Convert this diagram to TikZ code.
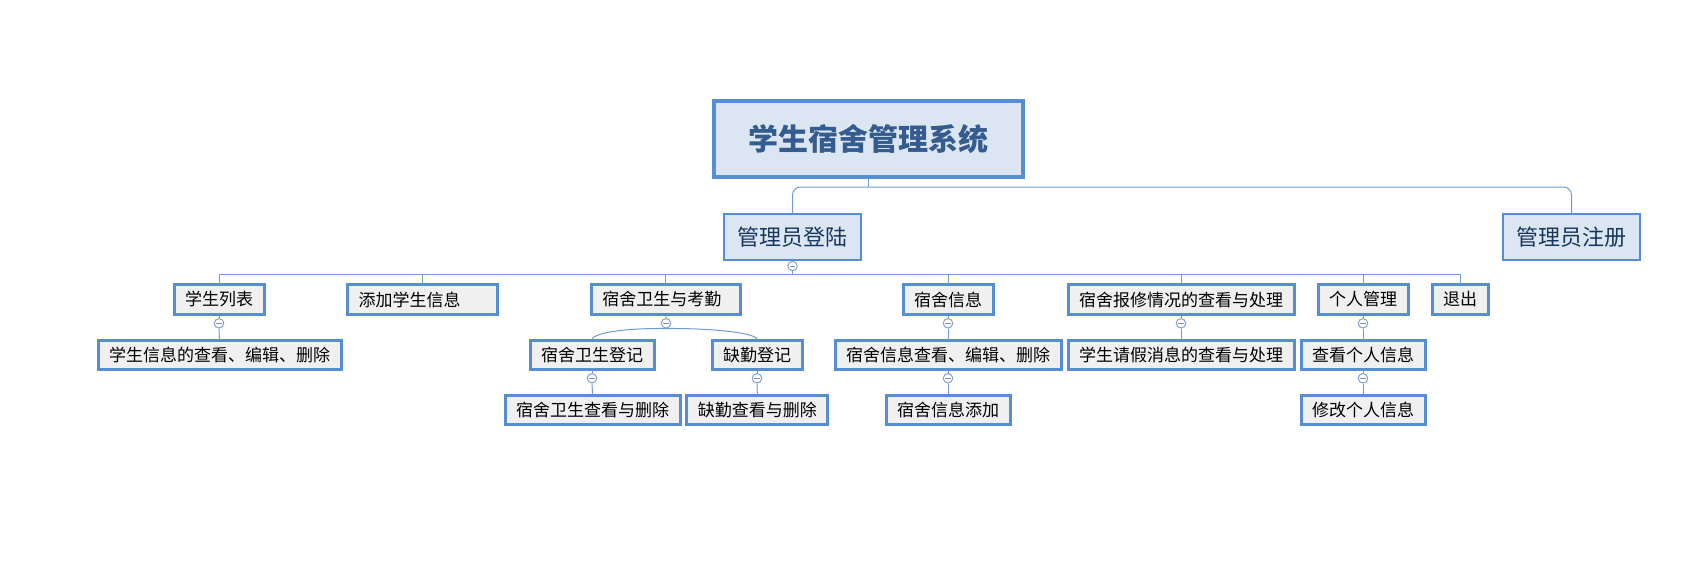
\documentclass[tikz,border=0pt]{standalone}
\usepackage{fontspec}
\setmainfont{Noto Sans CJK SC}
\definecolor{boxline}{RGB}{85,142,213}
\definecolor{topfill}{RGB}{220,230,242}
\definecolor{leaffill}{RGB}{240,240,240}
\definecolor{toptext}{RGB}{52,92,142}
\definecolor{midtext}{RGB}{23,55,94}
\definecolor{linkcol}{RGB}{110,155,215}
\definecolor{foldcol}{RGB}{125,162,220}
\definecolor{minuscol}{RGB}{150,140,165}
\begin{document}
\begin{tikzpicture}[x=1pt,y=-1pt,
  top/.style={draw=boxline, line width=4pt, fill=topfill, text=toptext, font=\bfseries\fontsize{30}{36}\selectfont, inner xsep=34.5pt, inner ysep=0pt, minimum height=76pt},
  mid/.style={draw=boxline, line width=2pt, fill=topfill, text=midtext, font=\fontsize{22}{26}\selectfont, inner xsep=13.5pt, inner ysep=0pt, minimum height=46pt},
  leaf/.style={draw=boxline, line width=3pt, fill=leaffill, text=black, font=\fontsize{17}{20}\selectfont, inner xsep=11pt, inner ysep=0pt, minimum height=29.5pt},
  fold/.style={draw=foldcol, fill=white, circle, line width=1pt, inner sep=0pt, minimum size=9.5pt,
    path picture={\draw[minuscol, line width=0.9pt] ([xshift=-2.6pt]path picture bounding box.center) -- ([xshift=2.6pt]path picture bounding box.center);}},
  link/.style={draw=linkcol, line width=1pt}]
\useasboundingbox (0,0) rectangle (1698,562);

\node[top] (0) at (868.5,139) {学生宿舍管理系统};
\node[mid] (1) at (792.5,237) {管理员登陆};
\node[mid] (2) at (1571.5,237) {管理员注册};

\node[leaf] (11) at (219,299.5) {学生列表};
\node[leaf, text width=128pt, align=left] (12) at (422.7,299.5) {添加学生信息};
\node[leaf, text width=127pt, align=left] (13) at (665.8,299.5) {宿舍卫生与考勤};
\node[leaf] (14) at (948,299.5) {宿舍信息};
\node[leaf] (15) at (1181,299.5) {宿舍报修情况的查看与处理};
\node[leaf] (16) at (1363,299.5) {个人管理};
\node[leaf] (17) at (1460,299.5) {退出};

\node[leaf] (111) at (219.5,355) {学生信息的查看、编辑、删除};
\node[leaf] (131) at (592,355) {宿舍卫生登记};
\node[leaf] (132) at (757,355) {缺勤登记};
\node[leaf] (141) at (948,355) {宿舍信息查看、编辑、删除};
\node[leaf] (151) at (1181,355) {学生请假消息的查看与处理};
\node[leaf] (161) at (1363,355) {查看个人信息};

\node[leaf] (1311) at (592.5,410) {宿舍卫生查看与删除};
\node[leaf] (1321) at (757.3,410) {缺勤查看与删除};
\node[leaf] (1411) at (948,410) {宿舍信息添加};
\node[leaf] (1611) at (1363,410) {修改个人信息};

\coordinate (r0) at (868.5,187);
\coordinate (b1) at (792.5,274);
\node[fold] (c1) at (792.5,266) {};
\node[fold] (c11) at (219,323.3) {};
\node[fold] (c13) at (666,323.3) {};
\node[fold] (c14) at (948,323.3) {};
\node[fold] (c15) at (1181,323.3) {};
\node[fold] (c16) at (1363,323.3) {};
\node[fold] (c131) at (592,378.3) {};
\node[fold] (c132) at (757,378.3) {};
\node[fold] (c141) at (948,378.3) {};
\node[fold] (c161) at (1363,378.3) {};

\path[draw,link] (0.south) -- (r0);
\path[draw,link,rounded corners=8pt] (r0) -| (1.north);
\path[draw,link,rounded corners=8pt] (r0) -| (2.north);

\path[draw,link] (1.south) -- (c1.north);
\path[draw,link] (c1.south) -- (b1);
\path[draw,link] (b1) -| (11.north);
\path[draw,link] (b1) -| (12.north);
\path[draw,link] (b1) -| (13.north);
\path[draw,link] (b1) -| (14.north);
\path[draw,link] (b1) -| (15.north);
\path[draw,link] (b1) -| (16.north);
\path[draw,link] (b1) -| (17.north);

\path[draw,link] (11.south) -- (c11.north);
\path[draw,link] (c11.south) -- (111.north);
\path[draw,link] (13.south) -- (c13.north);
\path[draw,link] (c13.south) .. controls (636,328) and (598,331) .. (131.north);
\path[draw,link] (c13.south) .. controls (696,328) and (751,331) .. (132.north);
\path[draw,link] (14.south) -- (c14.north);
\path[draw,link] (c14.south) -- (141.north);
\path[draw,link] (15.south) -- (c15.north);
\path[draw,link] (c15.south) -- (151.north);
\path[draw,link] (16.south) -- (c16.north);
\path[draw,link] (c16.south) -- (161.north);

\path[draw,link] (131.south) -- (c131.north);
\path[draw,link] (c131.south) -- (1311.north);
\path[draw,link] (132.south) -- (c132.north);
\path[draw,link] (c132.south) -- (1321.north);
\path[draw,link] (141.south) -- (c141.north);
\path[draw,link] (c141.south) -- (1411.north);
\path[draw,link] (161.south) -- (c161.north);
\path[draw,link] (c161.south) -- (1611.north);
\end{tikzpicture}
\end{document}
